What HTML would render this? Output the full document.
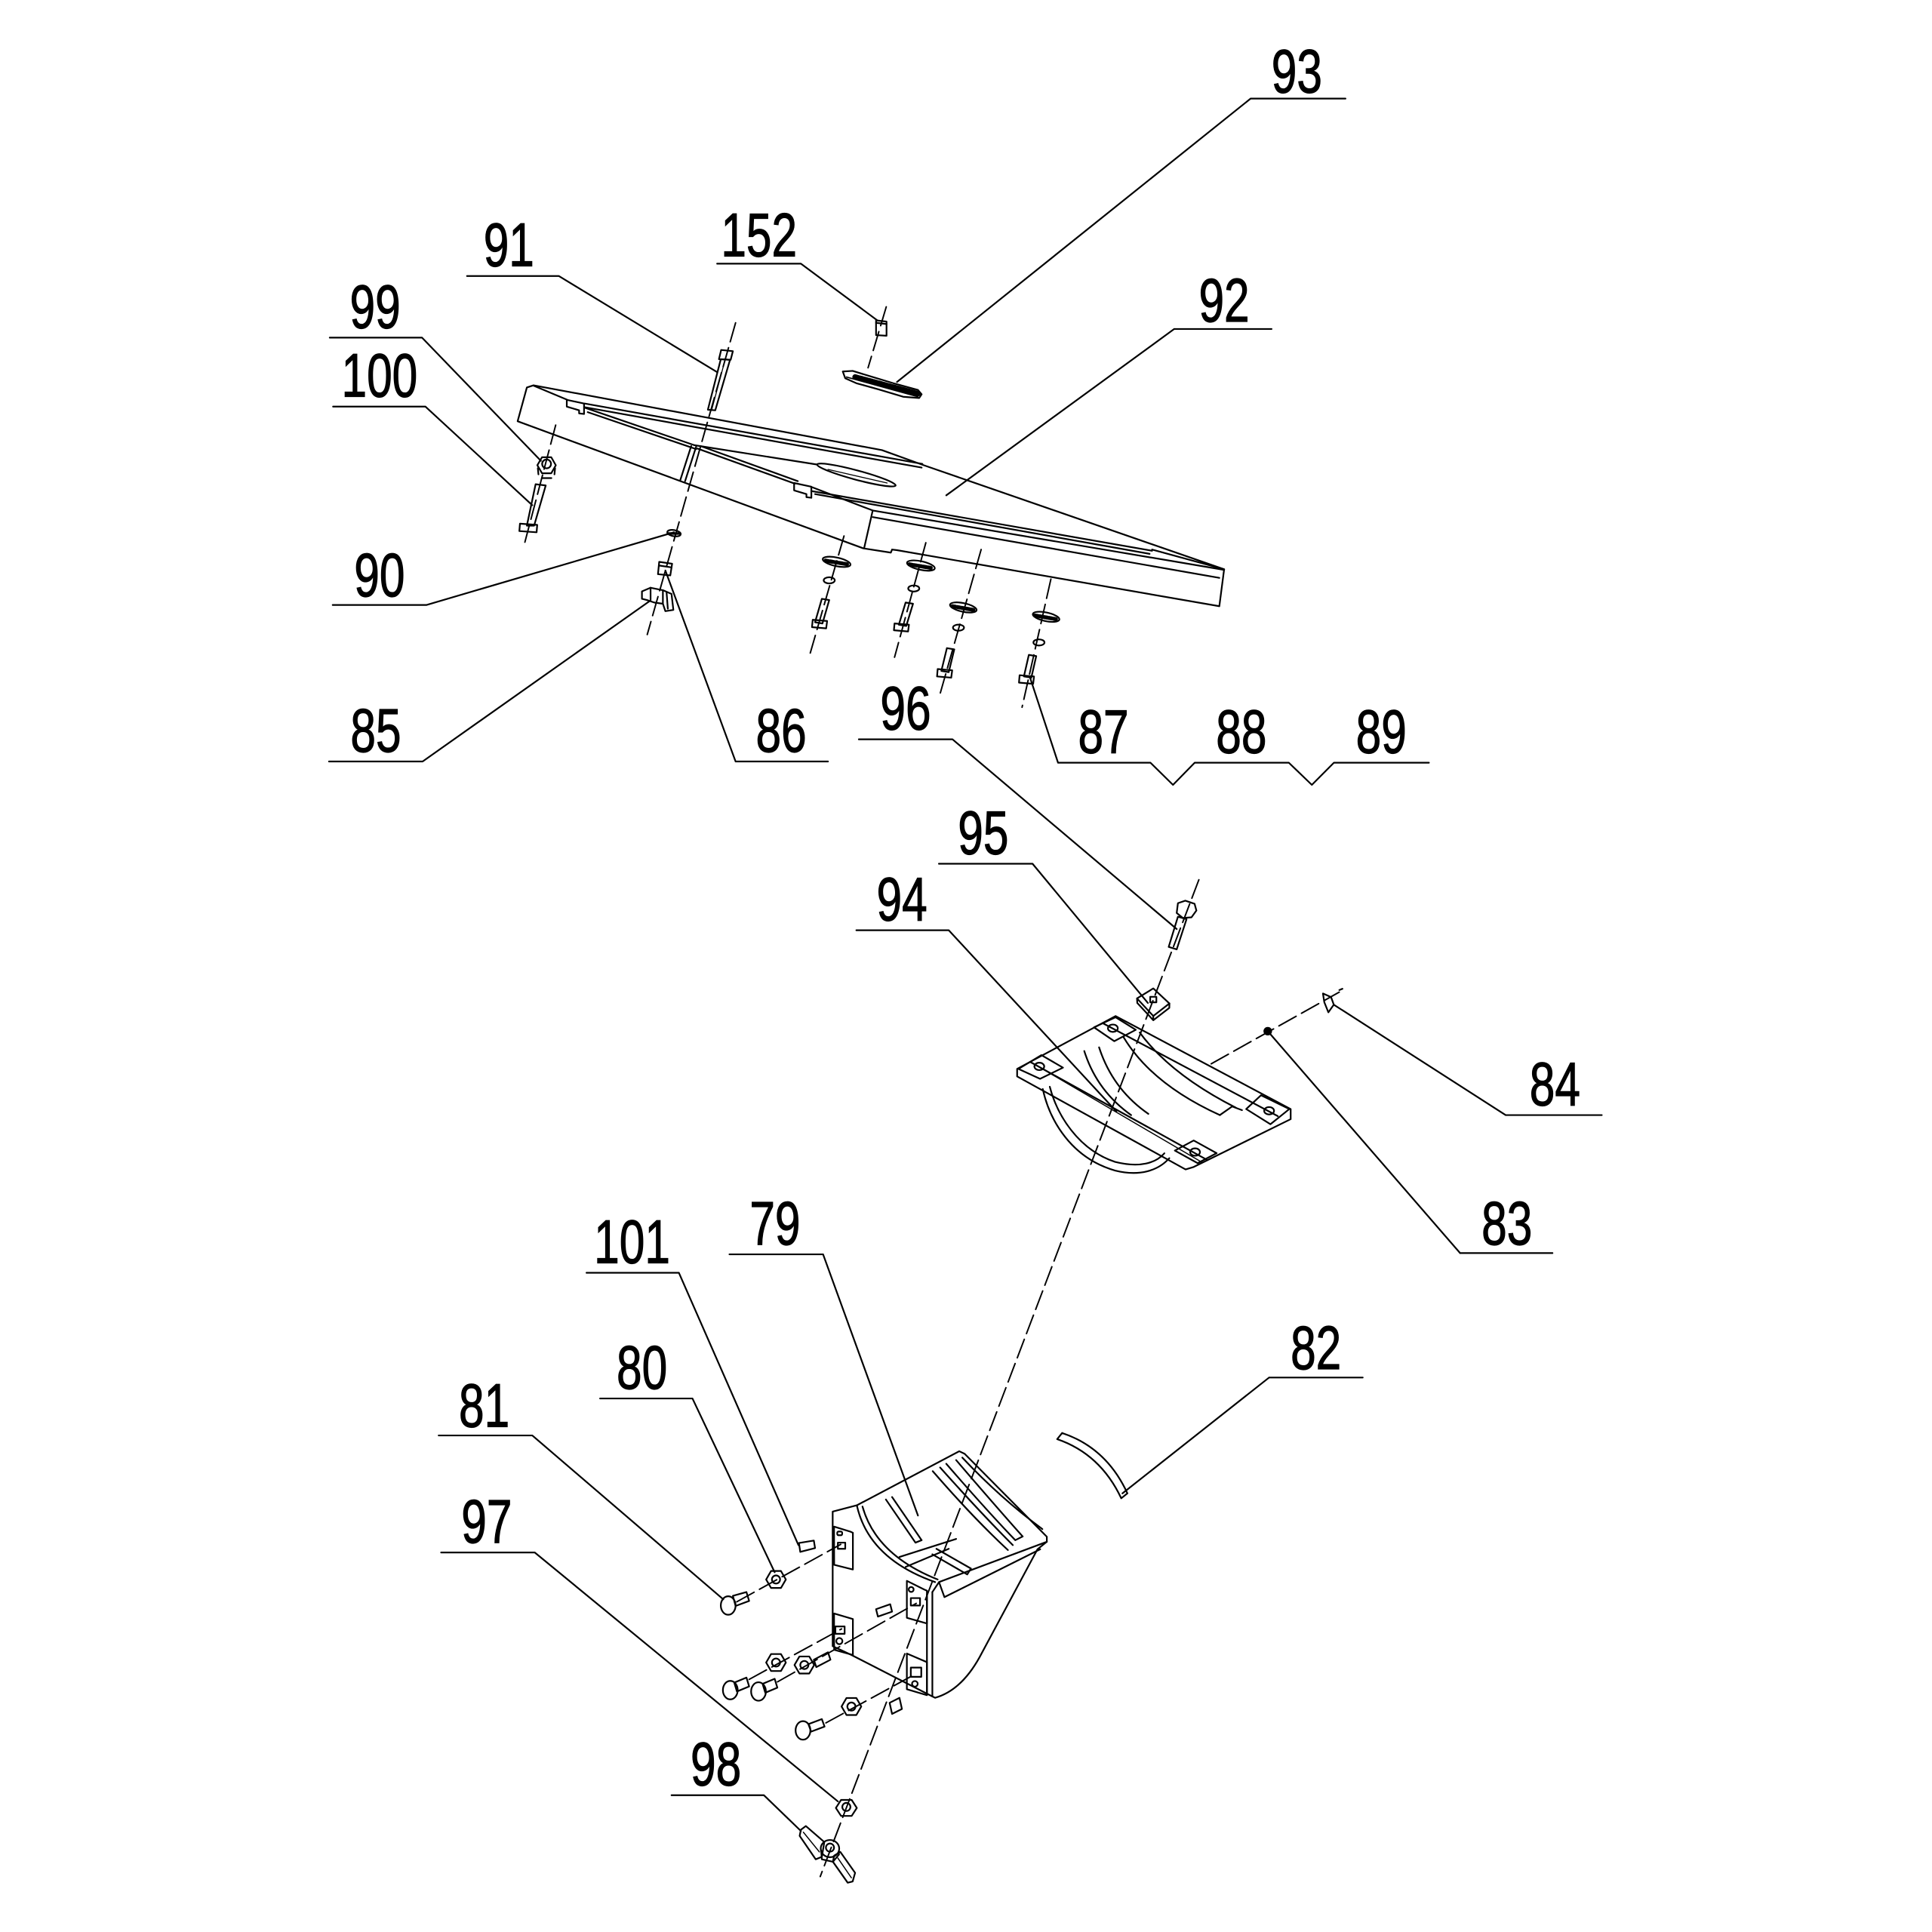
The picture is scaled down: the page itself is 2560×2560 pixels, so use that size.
<!DOCTYPE html>
<html><head><meta charset="utf-8"><style>
html,body{margin:0;padding:0;background:#fff;}
svg{display:block;}
text{font-family:"Liberation Sans",Arial,sans-serif;font-size:50px;fill:#000;stroke:#000;stroke-width:0.7px;}
</style></head><body>
<svg width="2560" height="2560" viewBox="0 0 1568 1568" xmlns="http://www.w3.org/2000/svg">
<rect width="1568" height="1568" fill="#fff"/>
<g fill="none" stroke="#000" stroke-width="1.35" stroke-linejoin="round" stroke-linecap="round">

<!-- ===== leaders & underlines ===== -->
<path d="M1015,80 H1092 M1015,80 L728,310"/>
<path d="M582,214 H650 L712,260"/>
<path d="M379,224 H453.5 L582,302"/>
<path d="M267.6,274 H342.5 L439,374"/>
<path d="M270.3,330 H345.3 L432,410"/>
<path d="M953,267 H1032 M953,267 L768,402"/>
<path d="M270,491 H346 L547,432"/>
<path d="M267,618 H343 L527,488"/>
<path d="M597,618 H672 M597,618 L540,463"/>
<path d="M697,600 H773 L955,754"/>
<path d="M858.7,619 H933.7 L952,637 L969.6,619 H1046 L1064.7,637 L1082.6,619 H1159.7 M858.7,619 L836,550"/>
<path d="M762,701 H838 L931.6,814"/>
<path d="M695,755 H770 L906,902"/>
<path d="M1222,905 H1300 M1222,905 L1082.5,815.4"/>
<path d="M1185,1017 H1260 M1185,1017 L1029,837"/>
<path d="M592,1018 H668 L745,1230"/>
<path d="M476,1033 H551 L648,1254"/>
<path d="M487,1135 H562 L628.7,1276"/>
<path d="M356,1165 H432 L587,1298"/>
<path d="M1030,1118 H1106 M1030,1118 L911,1212"/>
<path d="M358,1260 H434 L680,1462"/>
<path d="M545,1457 H620 L650,1486"/>

<!-- ===== axes (dashed) ===== -->
<g stroke-dasharray="16 5" stroke-width="1.2">
<path d="M597,262 L525.3,515"/>
<path d="M451,345 L426,440"/>
<path d="M719.3,249 L704.5,298.5"/>
<path d="M685,435 L657.6,530"/>
<path d="M751.4,440.5 L726,533.4"/>
<path d="M796.3,446 L763,563"/>
<path d="M852.9,470 L829.5,574"/>
<path d="M973,714 L665.7,1523"/>
<path d="M983,863.4 L1086.9,805.2"/>
<path d="M598,1300 L682.3,1253.4"/>
<path d="M608,1363 L683,1322"/>
<path d="M631,1365 L743.6,1301.3"/>
<path d="M670.3,1398.3 L741.4,1359.5"/>
</g>

<!-- ===== 92 table top ===== -->
<path d="M433,312.7 L427.6,314.5 L420.1,341.9 L700.6,445 L723,448.5 L724,446 L728,446.5 L989.6,492 L993.5,462 L749.8,377.6 L715.8,365.3 Z"/>
<path d="M433,313 L460.4,324.5"/>
<path d="M474.5,327.5 L748.6,376.5 M474.5,330.5 L748,379.5"/>
<path d="M475,331 L563.5,361.3 M477,334.5 L565,364.5"/>
<path d="M563.5,361.3 L663,377"/>
<path d="M566,364 L645,392.5 M568.5,362 L647.5,390.5"/>
<ellipse cx="695" cy="385.5" rx="33" ry="3.8" transform="rotate(15 695 385.5)"/>
<path d="M672,381 L720,392" stroke-width="0.8"/>
<path d="M561,362 L552,390 M565,362.5 L556,390.5"/>
<polygon points="460,324.5 474,327.5 474,336 470,335.5 470,333 460,330"/>
<polygon points="644.5,392 658.5,395 658.5,404 654.5,403.5 654.5,401 644.5,398"/>
<path d="M658,395 L708.3,414.3 L993.5,462.5"/>
<path d="M658.4,398.5 L935,447 M661.5,401 L933,449.5"/>
<path d="M708.3,414.3 L701.3,445"/>
<path d="M708.4,419.7 L989.6,469"/>
<path d="M935,446 L993.5,462"/>

<!-- 91 bolt -->
<polygon points="585.3,284 594.8,285 593,292 583.5,291.5"/>
<polygon points="585,291.5 592.5,292 580.5,333 574.5,332.5"/>
<path d="M588.5,292 L577.5,333" stroke-width="0.8"/>

<!-- 99 nut / 100 bolt -->
<polygon points="436.1,377.6 439.9,371.1 447.4,371.1 451.1,377.6 447.4,384.1 439.9,384.1"/>
<circle cx="443.6" cy="376.5" r="3.6"/>
<path d="M436.5,380 L437,385 M450.5,380 L450,385 M440,388 L447.5,388"/>
<polygon points="434.7,393 442.9,394 433.5,426.6 427.6,426.6"/>
<polygon points="422,425 436,426 435.5,432 421.5,431"/>

<!-- 90 washer / 86 / 85 -->
<ellipse cx="547" cy="432.7" rx="5.5" ry="2.5" transform="rotate(10 547 432.7)"/>
<path d="M542,433 L552,433" stroke-width="2"/>
<polygon points="535,456 545.5,457.5 544,467 534,466"/>
<path d="M535,459 L545,460.5"/>
<polygon points="521,480 528,477 538,479 545,482 546.5,495 540,496 538,490 531,489 525,487 521,486"/>
<path d="M528,477 L528,487 M538,479 L538,490 M541,481 L542,494"/>

<!-- 152 & 93 -->
<polygon points="711,260 719.5,261 719.5,272.5 711,272"/>
<path d="M711,262 L719.5,263"/>
<polygon points="684,301.5 692,301 705,305 725,311 745,316.5 748,320 746,323 733,322 713,316 695,311 686,307"/>
<path d="M694,306 L745,319.5" stroke-width="4.5" stroke-dasharray="2.6 1.3"/>
<path d="M687,306 L745,322" stroke-width="1"/>

<!-- bolt stacks -->
<g>
<ellipse cx="679" cy="456" rx="11.5" ry="3.5" transform="rotate(12 679 456)"/>
<path d="M670,455 L688,458" stroke-width="3.2" stroke-dasharray="2.5 1.3"/>
<ellipse cx="673" cy="471" rx="4.5" ry="2.5"/>
<polygon points="667,486 673,487 667.5,506 661.5,505"/>
<polygon points="659.6,503 671.3,504 670.5,510 659,509"/>

<ellipse cx="747.4" cy="459" rx="11.5" ry="3.5" transform="rotate(12 747.4 459)"/>
<path d="M738,458 L756,461" stroke-width="3.2" stroke-dasharray="2.5 1.3"/>
<ellipse cx="741.6" cy="477.6" rx="4.5" ry="2.5"/>
<polygon points="735,489 741,490 735.5,508 729.5,507"/>
<polygon points="726,506 737.7,507 737,512.5 725.5,511.5"/>

<ellipse cx="781.8" cy="493" rx="11" ry="3.5" transform="rotate(12 781.8 493)"/>
<path d="M773,492 L790,495" stroke-width="3.2" stroke-dasharray="2.5 1.3"/>
<ellipse cx="777.9" cy="509.4" rx="4.5" ry="2.5"/>
<polygon points="768.5,526 774.5,527 770,545.5 764,544.5"/>
<polygon points="761,543 772.8,544 772,550 760.5,549"/>

<ellipse cx="849" cy="500.6" rx="11" ry="3.5" transform="rotate(12 849 500.6)"/>
<path d="M840,499.5 L857,502.5" stroke-width="3.2" stroke-dasharray="2.5 1.3"/>
<ellipse cx="843.2" cy="521.4" rx="4.5" ry="2.5"/>
<polygon points="835,531.5 841,532.5 837,550 831,549"/>
<polygon points="827.5,548 839.2,549 838.5,555 827,554"/>
</g>

<!-- ===== 94 upper trunnion ===== -->
<path d="M825.5,867.5 L905.4,824.6 L1047.5,900.1 L1047.5,908.3 L968.8,947.1 L962.2,949.1 L825.5,873.6 Z"/>
<path d="M836,861.8 L979,941"/>
<path d="M894.8,830.3 L1037,905.8"/>
<path d="M840,864 L975,943" stroke-width="0.9"/>
<polygon points="887.9,833.8 905.4,825.6 921.8,835.8 904.3,845"/>
<ellipse cx="903.2" cy="834.5" rx="4" ry="3"/>
<polygon points="826.6,867.5 845.2,856.3 862.7,866.5 844.1,875.6"/>
<ellipse cx="843.5" cy="865.5" rx="4" ry="3"/>
<polygon points="1011.4,900.1 1023.4,888.9 1046.4,900.1 1031.1,912.4"/>
<ellipse cx="1030" cy="901.5" rx="4" ry="3"/>
<polygon points="953.5,933.8 968.8,925.6 987.4,935.9 972,944"/>
<ellipse cx="969.9" cy="935" rx="4" ry="3"/>
<path d="M846.3,883.8 C852,910 870,940 905,950 C925,955 940,950 949,940"/>
<path d="M852,882 C858,905 875,933 905,943 C925,948 938,944 945,936"/>
<path d="M880,853 Q890,885 918,905"/>
<path d="M892,850 Q903,884 932,904"/>
<path d="M912,842 Q935,880 990,905"/>
<path d="M925,838 Q950,872 1003,899"/>
<path d="M990,905 L1000,898 L1008,901"/>

<!-- 95 bolt & nut -->
<polygon points="956,733 962,731 969.5,733.5 971,739 967,744.5 960,745 955,741"/>
<polygon points="956,744 963,746 955,770.5 948.5,768.5"/>
<polygon points="922.8,810.3 936,802.2 949.1,814.4 936,824.6"/>
<path d="M922.8,810.3 L923,814 L936,828 L949,818 L949.1,814.4 M936,824.6 L936,828"/>
<rect x="933.5" y="809" width="5" height="4.5"/>

<!-- 83 / 84 -->
<circle cx="1028.9" cy="836.9" r="2.8" fill="#000"/>
<polygon points="1073.7,806.3 1080.3,809.3 1082.5,815.4 1078.1,821.6 1074.8,813.4"/>
<path d="M1087,803.5 L1089.5,802.5"/>

<!-- ===== 79 lower trunnion bracket ===== -->
<path d="M675.8,1226.8 L695.4,1221.7 L778.5,1177.8 L782.9,1179.9 L849.6,1247.2 L849.6,1251.3 L842,1257.4 L795,1345 Q780,1372 758.9,1377.9 L756.7,1376.8 L691.1,1343.2 L675.8,1336 Z"/>
<path d="M756.7,1292.1 L756.7,1376.8 M752.3,1294 L752.3,1375"/>
<path d="M762.1,1284 L849.6,1251.3 M766.5,1296.2 L844.2,1257.4 M756.7,1292.1 L762.1,1284 L766.5,1296.2"/>
<path d="M695.4,1221.7 Q705,1265 758.9,1284"/>
<path d="M700,1222.7 Q711,1262 761,1281.9"/>
<path d="M781,1183 Q812,1216 846,1241"/>
<path d="M768,1188 Q800,1225 824,1250 M776,1185 Q806,1220 830,1247 M824,1250 L830,1247"/>
<path d="M757,1194 Q790,1232 818,1258 M763,1191 Q796,1228 822,1254"/>
<path d="M719,1217 L743,1252 M724,1215 L748,1250 M743,1252 L748,1250"/>
<path d="M730,1263.6 L776,1249 M735,1271.7 L770,1257"/>
<path d="M756.7,1261.5 L785,1277.8 M760,1257 L788,1273 M785,1277.8 L788,1273"/>
<!-- tabs -->
<polygon points="676.9,1239 690,1243 692.2,1244 692.2,1273.8 677,1270"/>
<rect x="679.5" y="1243" width="4" height="3" rx="1"/>
<rect x="680" y="1252" width="6" height="5"/>
<polygon points="676.9,1309.5 692.2,1314 692.2,1343.2 677,1339"/>
<rect x="678" y="1320" width="7.5" height="6"/>
<circle cx="681.2" cy="1331.9" r="2.5"/>
<polygon points="736,1283 750,1290 752.3,1291 752.3,1317.6 736,1313"/>
<circle cx="739.5" cy="1290" r="2"/>
<rect x="739.2" y="1297" width="7.5" height="6"/>
<polygon points="736,1342 752.3,1349 752.3,1375.8 736,1371"/>
<rect x="739.2" y="1353.4" width="8.5" height="7.5"/>
<circle cx="742.5" cy="1366.6" r="2.3"/>

<!-- screws / washers around 79 -->
<ellipse cx="591" cy="1303" rx="6" ry="7.5"/>
<polygon points="594.8,1295.2 605.8,1292.1 608,1299.3 597,1303.4"/>
<polygon points="621.8,1281.9 625.8,1275 633.8,1275 637.8,1281.9 633.8,1288.8 625.8,1288.8"/>
<circle cx="629.8" cy="1281.9" r="3.3"/>
<polygon points="648.4,1252.3 660.5,1250.3 661.5,1256.4 649.5,1259.5"/>

<ellipse cx="592.7" cy="1371.7" rx="6" ry="7.5"/>
<polygon points="595.9,1365.6 605.8,1361.5 608,1368.7 598.1,1372.8"/>
<ellipse cx="615.6" cy="1372.8" rx="6" ry="7.5"/>
<polygon points="618.9,1366.6 628.7,1362.5 630.9,1369.7 621.1,1373.8"/>
<polygon points="621.8,1349.3 625.8,1342.4 633.8,1342.4 637.8,1349.3 633.8,1356.2 625.8,1356.2"/>
<circle cx="629.8" cy="1349.3" r="3.3"/>
<polygon points="644.8,1351.3 648.8,1344.4 656.8,1344.4 660.8,1351.3 656.8,1358.2 648.8,1358.2"/>
<circle cx="652.8" cy="1351.3" r="3.3"/>
<polygon points="660.5,1347 672,1341 674,1347 662.5,1353"/>
<polygon points="711,1306 722.5,1302 724,1308 712.5,1312"/>

<ellipse cx="651.7" cy="1404.4" rx="6" ry="7.5"/>
<polygon points="656.1,1399.3 667,1395.2 669.2,1401.3 658.3,1405.4"/>
<polygon points="683,1385 687,1378.1 695,1378.1 699,1385 695,1391.9 687,1391.9"/>
<circle cx="691" cy="1385" r="3.3"/>
<polygon points="722,1382 730,1378 732,1387 724,1391"/>

<!-- 82 strip -->
<path d="M858,1168 Q893,1180 910,1216 M862,1163 Q898,1175 915,1212 M858,1168 L862,1163 M910,1216 L915,1212"/>

<!-- 97 washer / 98 wing nut -->
<polygon points="678.4,1467.3 682.6,1460.8 691.2,1460.8 695.4,1467.3 691.2,1473.8 682.6,1473.8"/>
<circle cx="686.9" cy="1466.5" r="3.3"/>
<ellipse cx="673.6" cy="1500.3" rx="7.5" ry="7"/>
<circle cx="673.6" cy="1499.5" r="3.3"/>
<path d="M666.5,1502 L667,1509 L676,1511 L681,1505"/>
<polygon points="650,1485 654,1482 669,1495 667,1507 662,1509 649,1490"/>
<path d="M652,1487 L665,1503" stroke-width="0.9"/>
<polygon points="677,1506 682,1503 694,1520 692,1527 688,1528 676,1511"/>
<path d="M680,1508 L691,1524" stroke-width="0.9"/>
</g>

<!-- ===== labels ===== -->
<g text-anchor="middle">
<text transform="translate(1052.5,75) scale(0.74,1)">93</text>
<text transform="translate(616,208) scale(0.74,1)">152</text>
<text transform="translate(413,216) scale(0.74,1)">91</text>
<text transform="translate(993.5,261) scale(0.74,1)">92</text>
<text transform="translate(304.5,266) scale(0.74,1)">99</text>
<text transform="translate(308,322) scale(0.74,1)">100</text>
<text transform="translate(308,484) scale(0.74,1)">90</text>
<text transform="translate(305,610) scale(0.74,1)">85</text>
<text transform="translate(634,610) scale(0.74,1)">86</text>
<text transform="translate(735,592) scale(0.74,1)">96</text>
<text transform="translate(895.5,611) scale(0.74,1)">87</text>
<text transform="translate(1007.5,611) scale(0.74,1)">88</text>
<text transform="translate(1121,611) scale(0.74,1)">89</text>
<text transform="translate(798,693) scale(0.74,1)">95</text>
<text transform="translate(732,747) scale(0.74,1)">94</text>
<text transform="translate(1262,897) scale(0.74,1)">84</text>
<text transform="translate(1223,1010) scale(0.74,1)">83</text>
<text transform="translate(513,1025) scale(0.74,1)">101</text>
<text transform="translate(629,1010) scale(0.74,1)">79</text>
<text transform="translate(1068,1111) scale(0.74,1)">82</text>
<text transform="translate(521,1127) scale(0.74,1)">80</text>
<text transform="translate(393,1158) scale(0.74,1)">81</text>
<text transform="translate(395,1252) scale(0.74,1)">97</text>
<text transform="translate(581,1449) scale(0.74,1)">98</text>
</g>
</svg>
</body></html>
